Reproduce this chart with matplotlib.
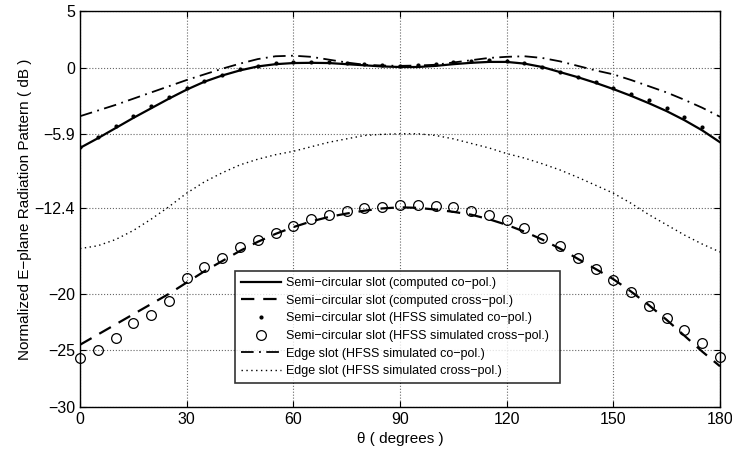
import numpy as np
import matplotlib
matplotlib.use("Agg")
import matplotlib.pyplot as plt

plt.rcParams['font.family'] = ['Liberation Sans', 'DejaVu Sans']

theta = np.arange(0, 181, 5)

# computed co-pol (semi-circular slot)
semi_co_comp = [-7.1, -6.25, -5.35, -4.45, -3.6, -2.75, -1.95, -1.25, -0.7, -0.25,
                0.1, 0.3, 0.4, 0.42, 0.4, 0.3, 0.2, 0.1, 0.05, 0.05,
                0.15, 0.3, 0.42, 0.5, 0.5, 0.35, 0.05, -0.4, -0.85, -1.35,
                -1.9, -2.5, -3.15, -3.85, -4.65, -5.55, -6.6]
# computed cross-pol
semi_x_comp = [-24.5, -23.6, -22.7, -21.8, -20.9, -20.0, -19.0, -18.0, -17.1, -16.2,
               -15.4, -14.7, -14.1, -13.6, -13.2, -12.9, -12.65, -12.45, -12.35, -12.4,
               -12.55, -12.75, -13.0, -13.4, -13.9, -14.5, -15.2, -16.0, -16.9, -17.8,
               -18.7, -19.8, -21.0, -22.3, -23.7, -25.1, -26.4]
# HFSS co-pol (semi-circular slot)
semi_co_hfss = [-7.0, -6.1, -5.2, -4.25, -3.4, -2.57, -1.83, -1.16, -0.66, -0.15,
                0.17, 0.43, 0.49, 0.49, 0.5, 0.38, 0.29, 0.2, 0.17, 0.2,
                0.32, 0.47, 0.58, 0.67, 0.6, 0.43, 0.08, -0.37, -0.8, -1.28,
                -1.78, -2.34, -2.87, -3.6, -4.4, -5.25, -6.1]
# HFSS cross-pol (semi-circular slot)
semi_x_hfss = [-25.7, -24.96, -23.9, -22.55, -21.9, -20.6, -18.6, -17.6, -16.8, -15.9,
               -15.2, -14.6, -13.98, -13.4, -13.0, -12.65, -12.44, -12.3, -12.15, -12.15,
               -12.2, -12.35, -12.65, -13.03, -13.5, -14.2, -15.1, -15.8, -16.8, -17.8,
               -18.8, -19.86, -21.1, -22.1, -23.2, -24.3, -25.55]
# edge slot HFSS co-pol
edge_co = [-4.3, -3.8, -3.3, -2.75, -2.2, -1.65, -1.1, -0.6, -0.1, 0.35,
           0.75, 1.0, 1.05, 0.95, 0.7, 0.45, 0.25, 0.18, 0.15, 0.18,
           0.25, 0.45, 0.65, 0.85, 0.95, 1.0, 0.85, 0.55, 0.15, -0.25,
           -0.6, -1.1, -1.65, -2.2, -2.85, -3.55, -4.35]
# edge slot HFSS cross-pol
edge_x = [-16.0, -15.75, -15.2, -14.4, -13.4, -12.3, -11.1, -10.1, -9.3, -8.6,
          -8.1, -7.7, -7.4, -7.0, -6.6, -6.3, -6.0, -5.9, -5.85, -5.85,
          -6.0, -6.3, -6.7, -7.1, -7.6, -8.0, -8.5, -9.05, -9.7, -10.4,
          -11.1, -12.0, -13.0, -13.9, -14.8, -15.6, -16.3]

xticks = [0, 30, 60, 90, 120, 150, 180]
yticks = [-30, -25, -20, -12.4, -5.9, 0, 5]
ytick_labels = ['−30', '−25', '−20', '−12.4', '−5.9', '0', '5']

fig = plt.figure(figsize=(7.32, 4.53), dpi=100)
ax = fig.add_axes([80 / 732, 1 - 407 / 453, 640 / 732, 396 / 453])

ax.plot(theta, semi_co_comp, 'k-', lw=1.6,
        label='Semi−circular slot (computed co−pol.)')
ax.plot(theta, semi_x_comp, 'k--', lw=1.6, dashes=(6, 4),
        label='Semi−circular slot (computed cross−pol.)')
ax.plot(theta, semi_co_hfss, 'k.', ms=4,
        label='Semi−circular slot (HFSS simulated co−pol.)')
ax.plot(theta, semi_x_hfss, 'o', mfc='none', mec='k', ms=7, mew=0.9,
        label='Semi−circular slot (HFSS simulated cross−pol.)', clip_on=False)
ax.plot(theta, edge_co, 'k-.', lw=1.3, dashes=(7, 3, 1, 3),
        label='Edge slot (HFSS simulated co−pol.)')
ax.plot(theta, edge_x, 'k', lw=1.0, dashes=(1, 2.5),
        label='Edge slot (HFSS simulated cross−pol.)')

ax.set_xlim(0, 180)
ax.set_ylim(-30, 5)
ax.set_xticks(xticks)
ax.set_yticks(yticks)
ax.set_yticklabels(ytick_labels)
ax.tick_params(direction='in', top=True, right=True, labelsize=11.5, length=4)
ax.grid(True, linestyle=':', color='0.4', lw=0.8)
for s in ax.spines.values():
    s.set_linewidth(1.0)

ax.set_xlabel('θ ( degrees )', fontsize=11, labelpad=4)
ax.set_ylabel('Normalized E−plane Radiation Pattern ( dB )', fontsize=11, labelpad=2)

leg = ax.legend(loc='lower left', bbox_to_anchor=(0.242, 0.061, 0.508, 0.287),
                mode='expand', fontsize=9, frameon=True, fancybox=False,
                edgecolor='k', borderpad=0.45, labelspacing=0.45,
                handlelength=3.2, handletextpad=0.4, borderaxespad=0)
leg.get_frame().set_linewidth(1.2)

fig.savefig('out.png', dpi=100)
